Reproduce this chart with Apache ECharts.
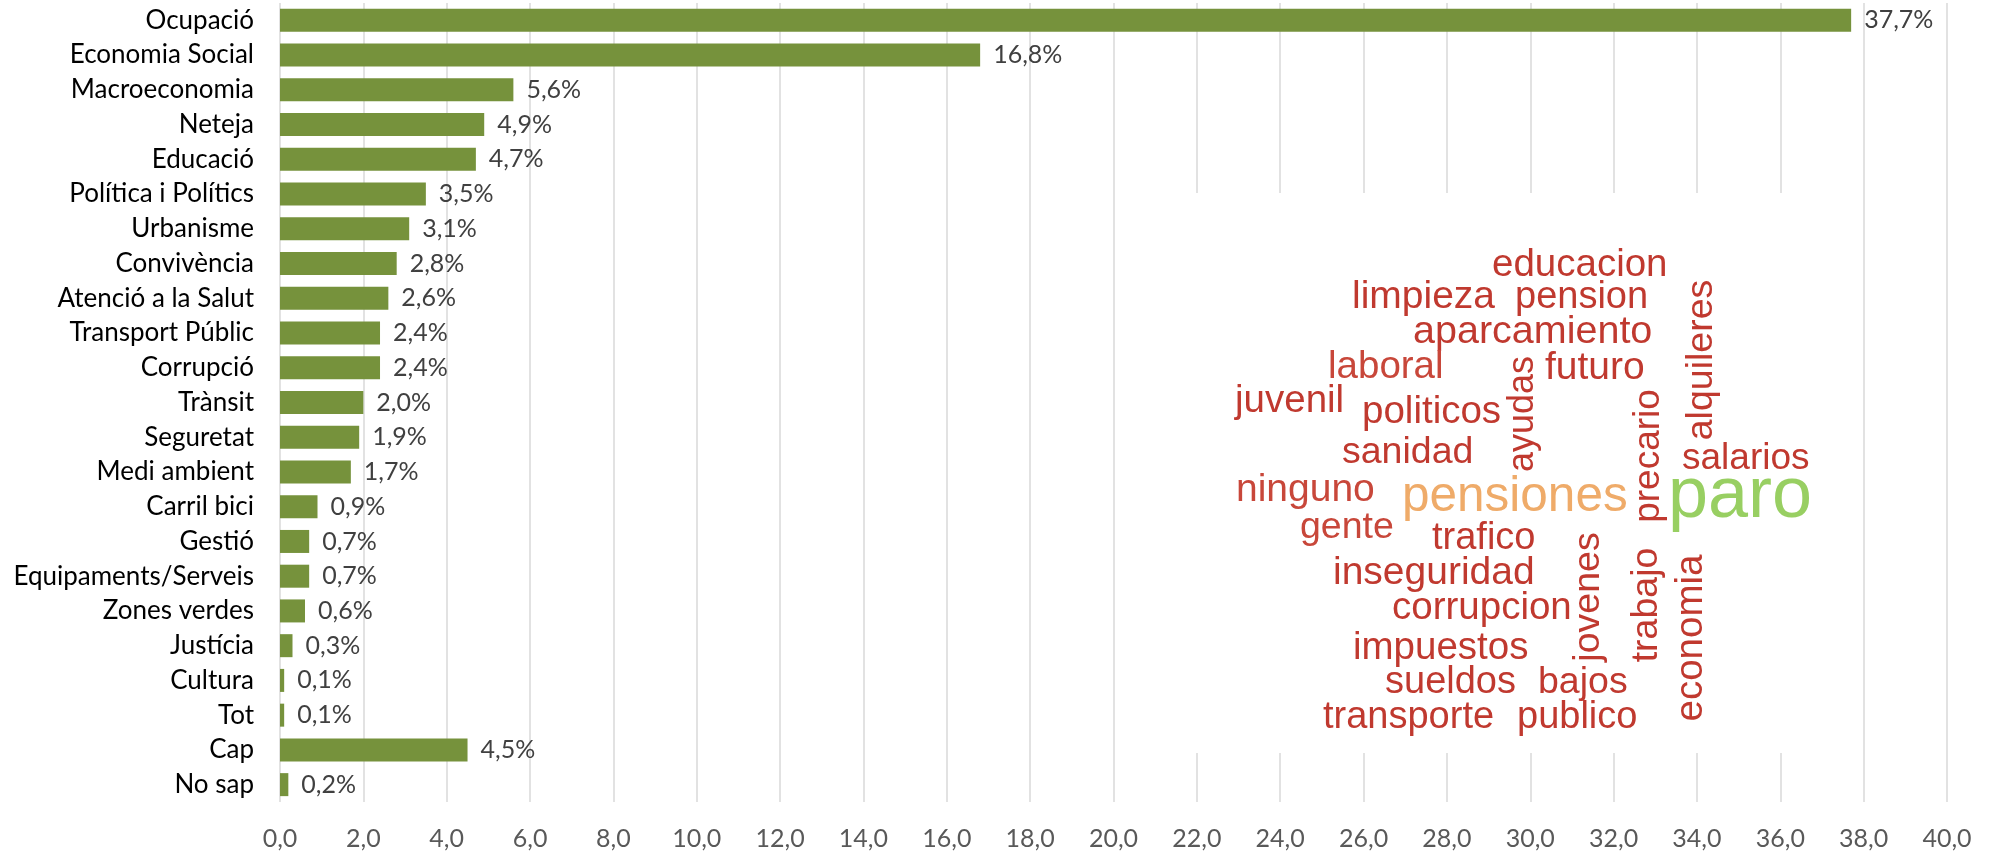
<!DOCTYPE html>
<html>
<head>
<meta charset="utf-8">
<script src="https://cdn.jsdelivr.net/npm/echarts@6/dist/echarts.min.js"></script>
<style>
html,body{margin:0;padding:0;background:#fff;}
#chart{width:1993px;height:853px;}
</style>
</head>
<body>
<div id="chart"></div>
<script>
// ---- Data ----
const categories = ["Ocupació","Economia Social","Macroeconomia","Neteja","Educació","Política i Polítics","Urbanisme","Convivència","Atenció a la Salut","Transport Públic","Corrupció","Trànsit","Seguretat","Medi ambient","Carril bici","Gestió","Equipaments/Serveis","Zones verdes","Justícia","Cultura","Tot","Cap","No sap"];
const values = [37.7,16.8,5.6,4.9,4.7,3.5,3.1,2.8,2.6,2.4,2.4,2.0,1.9,1.7,0.9,0.7,0.7,0.6,0.3,0.1,0.1,4.5,0.2];
const xTickMin = 0, xTickMax = 40, xTickStep = 2;

// word cloud words (text only)
const cloudWords = ["educacion","limpieza","pension","aparcamiento","laboral","futuro","juvenil","politicos","sanidad","salarios","ninguno","pensiones","paro","gente","trafico","inseguridad","corrupcion","impuestos","sueldos","bajos","transporte","publico","ayudas","alquileres","precario","jovenes","trabajo","economia"];

// ---- Word-cloud layout (decoration reproduced from the picture) ----
// [left/baselineX, baselineY/centerY, fontSize, vertical, colour]
const RED='#c0392f', RED2='#c8473a', ORANGE='#efab69', GREEN='#98cf62';
const cloudLayout = [
  [1492,275,38.5,0,RED],[1352,307,39,0,RED],[1515,307,38,0,RED],[1413,342,39.5,0,RED],
  [1328,377,38.5,0,RED2],[1545,378,39,0,RED],[1235,411,38.5,0,RED],[1362,422,38.5,0,RED],
  [1342,462,37.5,0,RED],[1682,468,37,0,RED],[1236,500,39,0,RED2],[1402,510,49.5,0,ORANGE],
  [1668,518,72,0,GREEN],[1300,537,37.5,0,RED2],[1432,548,38,0,RED],[1333,583,39,0,RED],
  [1392,618,38.5,0,RED],[1353,658,38.5,0,RED],[1385,692,38,0,RED],[1538,692,37.5,0,RED],
  [1323,727,38,0,RED],[1517,727,38,0,RED],
  [1534,414,36,1,RED],[1713,360,37.5,1,RED],[1660,456,37,1,RED],[1600,597,37.5,1,RED],
  [1658,605,37.5,1,RED],[1703,638,38.5,1,RED]
];

const chartFont = 'Lato, "Liberation Sans", sans-serif';
const fmt = v => v.toFixed(1).replace('.', ',');

const graphics = [{
  type:'rect', z: 5, silent:true,
  shape:{x:1150,y:193,width:680,height:560},
  style:{fill:'#ffffff'}
}];
cloudWords.forEach((w,i)=>{
  const [a,b,f,vert,col] = cloudLayout[i];
  const off = 0.3465*f;
  if(!vert){
    graphics.push({type:'text', z:6, silent:true, x:a, y:b-off+4,
      style:{text:w, font:`${f}px "Liberation Sans", Arial, sans-serif`, fill:col, textAlign:'left', textVerticalAlign:'middle'}});
  } else {
    graphics.push({type:'text', z:6, silent:true, x:a-off+2, y:b, rotation:Math.PI/2,
      style:{text:w, font:`${f}px "Liberation Sans", Arial, sans-serif`, fill:col, textAlign:'center', textVerticalAlign:'middle'}});
  }
});

const chart = echarts.init(document.getElementById('chart'), null, {renderer:'canvas'});
chart.setOption({
  animation:false,
  backgroundColor:'#ffffff',
  grid:{left:280, right:46, top:3, bottom:51, containLabel:false},
  xAxis:{
    type:'value', min:xTickMin, max:xTickMax, interval:xTickStep,
    axisLine:{show:false}, axisTick:{show:false},
    splitLine:{show:true, lineStyle:{color:'#d9d9d9', width:1.5}},
    axisLabel:{color:'#595959', fontSize:25, fontFamily:chartFont, margin:24, formatter:v=>fmt(v)}
  },
  yAxis:{
    type:'category', data:categories, inverse:true,
    axisLine:{show:false}, axisTick:{show:false},
    axisLabel:{color:'#000000', fontSize:26, fontFamily:chartFont, margin:26}
  },
  series:[{
    type:'bar', data:values, barWidth:23,
    itemStyle:{color:'#76923c'},
    label:{show:true, position:'right', distance:13, color:'#404040', fontSize:25, fontFamily:chartFont,
      formatter:p=>fmt(p.value)+'%'}
  }],
  graphic: graphics
});
</script>
</body>
</html>
